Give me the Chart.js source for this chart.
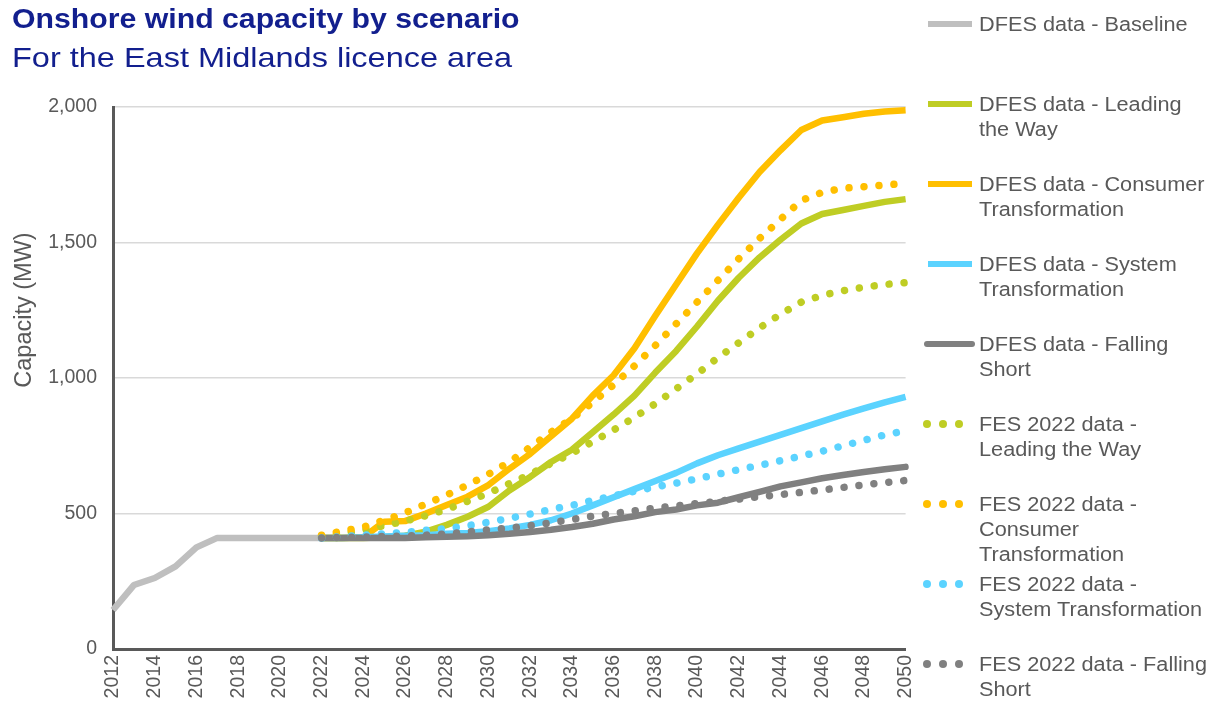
<!DOCTYPE html>
<html>
<head>
<meta charset="utf-8">
<script src="https://cdn.jsdelivr.net/npm/chart.js@4.4.1/dist/chart.umd.min.js"></script>
<style>
html,body{margin:0;padding:0;background:#ffffff;width:1210px;height:706px;overflow:hidden;font-family:"Liberation Sans",Arial,sans-serif;}
#wrap{position:relative;width:1210px;height:706px;}
#chart{position:absolute;left:0;top:0;}
.ttl{position:absolute;left:12px;white-space:nowrap;color:#121f8e;transform-origin:0 0;}
#t1{top:6px;font-size:27px;line-height:27px;font-weight:bold;transform:scaleX(1.12);}
#t2{top:44px;font-size:28px;line-height:28px;transform:scaleX(1.16);}
#ytitle{position:absolute;width:240px;left:-97px;top:298px;height:24px;line-height:24px;text-align:center;font-size:23.5px;color:#595959;transform:rotate(-90deg);transform-origin:50% 50%;white-space:nowrap;}
#legend{position:absolute;left:0;top:0;width:1210px;height:706px;pointer-events:none;z-index:2;}
.li{position:absolute;left:979px;font-size:20px;line-height:25px;color:#595959;white-space:nowrap;transform:scaleX(1.085);transform-origin:0 0;}
.mk{position:absolute;}
</style>
</head>
<body>
<div id="wrap">
  <canvas id="chart" width="935" height="706"></canvas>
  <div class="ttl" id="t1">Onshore wind capacity by scenario</div>
  <div class="ttl" id="t2">For the East Midlands licence area</div>
  <div id="ytitle">Capacity (MW)</div>
  <div id="legend"></div>
</div>
<script>
// ---- categories ----
const years = ['2012','2013','2014','2015','2016','2017','2018','2019','2020','2021','2022','2023','2024','2025','2026','2027','2028','2029','2030','2031','2032','2033','2034','2035','2036','2037','2038','2039','2040','2041','2042','2043','2044','2045','2046','2047','2048','2049','2050'];

// ---- y tick values ----
const yTicks = [0, 500, 1000, 1500, 2000];

// ---- series (MW) ----
const dfesBaseline = [144, 236, 262, 305, 375, 410, 410, 410, 410, 410, 410, null, null, null, null, null, null, null, null, null, null, null, null, null, null, null, null, null, null, null, null, null, null, null, null, null, null, null, null];

// 2022 .. 2050
const dfesLeadingTheWay = [410, 410, 410, 412, 418, 433, 458, 488, 525, 585, 635, 690, 735, 800, 865, 935, 1020, 1100, 1190, 1285, 1370, 1445, 1510, 1570, 1605, 1620, 1635, 1650, 1660];
const dfesConsumerTransformation = [410, 410, 412, 470, 472, 500, 531, 562, 605, 665, 720, 785, 850, 935, 1010, 1110, 1230, 1345, 1460, 1565, 1665, 1760, 1840, 1915, 1950, 1962, 1975, 1983, 1988];
const dfesSystemTransformation = [410, 410, 412, 415, 418, 420, 425, 428, 435, 445, 458, 475, 500, 530, 560, 590, 620, 650, 685, 715, 740, 765, 790, 815, 840, 865, 888, 910, 930];
const dfesFallingShort = [410, 410, 410, 410, 410, 412, 414, 416, 420, 425, 432, 440, 450, 462, 478, 490, 505, 515, 530, 540, 560, 580, 600, 615, 630, 642, 653, 663, 672];

const fesLeadingTheWay = [415, 425, 440, 455, 472, 492, 515, 545, 575, 610, 645, 685, 722, 765, 808, 855, 905, 960, 1015, 1075, 1130, 1185, 1235, 1280, 1305, 1322, 1335, 1345, 1352];
const fesConsumerTransformation = [420, 435, 450, 475, 502, 535, 568, 605, 645, 690, 745, 800, 850, 910, 975, 1045, 1120, 1200, 1280, 1360, 1440, 1515, 1585, 1655, 1685, 1700, 1706, 1712, 1718];
const fesSystemTransformation = [410, 415, 420, 425, 430, 438, 445, 455, 468, 482, 498, 515, 530, 548, 565, 582, 598, 612, 628, 645, 662, 678, 695, 712, 730, 750, 770, 790, 805];
const fesFallingShort = [410, 412, 413, 415, 417, 420, 425, 432, 440, 446, 455, 466, 478, 490, 500, 510, 520, 528, 537, 545, 553, 562, 570, 578, 587, 596, 606, 614, 622];

// ---- series names ----
const seriesNames = [
  'DFES data - Baseline',
  'DFES data - Leading|the Way',
  'DFES data - Consumer|Transformation',
  'DFES data - System|Transformation',
  'DFES data - Falling|Short',
  'FES 2022 data -|Leading the Way',
  'FES 2022 data -|Consumer|Transformation',
  'FES 2022 data -|System Transformation',
  'FES 2022 data - Falling|Short'
];

const C_BASE = '#bfbfbf', C_LW = '#bfcd24', C_CT = '#ffbf00', C_ST = '#5bd3ff', C_FS = '#808080';
const seriesColors = [C_BASE, C_LW, C_CT, C_ST, C_FS, C_LW, C_CT, C_ST, C_FS];
const seriesDotted = [false, false, false, false, false, true, true, true, true];

const startOffset = years.indexOf('2022');
function fromYear(arr){ const out = new Array(startOffset).fill(null); return out.concat(arr); }

const seriesData = [
  dfesBaseline,
  fromYear(dfesLeadingTheWay),
  fromYear(dfesConsumerTransformation),
  fromYear(dfesSystemTransformation),
  fromYear(dfesFallingShort),
  fromYear(fesLeadingTheWay),
  fromYear(fesConsumerTransformation),
  fromYear(fesSystemTransformation),
  fromYear(fesFallingShort)
];

const datasets = seriesData.map((d, i) => ({
  label: seriesNames[i].replace(/\|/g, ' '),
  data: d,
  borderColor: seriesColors[i],
  backgroundColor: seriesColors[i],
  borderWidth: seriesDotted[i] ? 7.5 : 6.5,
  borderDash: seriesDotted[i] ? [0.01, 15] : [],
  borderCapStyle: seriesDotted[i] ? 'round' : (i === 4 ? 'round' : 'butt'),
  borderJoinStyle: 'round',
  pointRadius: 0,
  pointHoverRadius: 0,
  tension: 0,
  fill: false,
  spanGaps: false,
  order: seriesData.length - i
}));

const AXIS_COLOR = '#595959';
const FONT = '"Liberation Sans", Arial, sans-serif';

new Chart(document.getElementById('chart'), {
  type: 'line',
  data: { labels: years, datasets },
  options: {
    responsive: false,
    animation: false,
    devicePixelRatio: 1,
    layout: { padding: { left: 0, top: 107, right: 24, bottom: 0 } },
    plugins: { legend: { display: false }, tooltip: { enabled: false }, title: { display: false } },
    scales: {
      x: {
        type: 'category',
        offset: false,
        grid: { display: false, drawTicks: false },
        border: { display: true, color: AXIS_COLOR, width: 3 },
        ticks: {
          autoSkip: false,
          maxRotation: 90,
          minRotation: 90,
          padding: 6,
          color: AXIS_COLOR,
          font: { family: FONT, size: 19.5 },
          callback: function(v, i) { const y = parseInt(years[i], 10); return (y % 2 === 0) ? years[i] : ''; }
        },
        afterFit: function(scale) { scale.height = 57; }
      },
      y: {
        min: 0,
        max: 2000,
        afterBuildTicks: function(scale) { scale.ticks = yTicks.map(v => ({ value: v })); },
        grid: { color: '#d9d9d9', lineWidth: 1.5, drawTicks: false },
        border: { display: true, color: AXIS_COLOR, width: 3 },
        ticks: {
          padding: 16,
          color: AXIS_COLOR,
          font: { family: FONT, size: 19.5 },
          callback: function(v) { return Number(v).toLocaleString('en-US'); }
        },
        afterFit: function(scale) { scale.width = 113; }
      }
    }
  }
});

// ---- HTML legend ----
const legend = document.getElementById('legend');
seriesNames.forEach((name, i) => {
  const top = 12 + 80 * i;
  const cy = top + 12;
  const t = document.createElement('div');
  t.className = 'li';
  t.style.top = top + 'px';
  t.innerHTML = name.split('|').join('<br>');
  legend.appendChild(t);
  if (seriesDotted[i]) {
    [926.7, 942.7, 959.3].forEach(cx => {
      const d = document.createElement('div');
      d.className = 'mk';
      d.style.left = (cx - 4) + 'px';
      d.style.top = (cy - 4) + 'px';
      d.style.width = '8px';
      d.style.height = '8px';
      d.style.borderRadius = '50%';
      d.style.background = seriesColors[i];
      legend.appendChild(d);
    });
  } else {
    const m = document.createElement('div');
    m.className = 'mk';
    const round = (i === 4);
    m.style.left = (round ? 924 : 928) + 'px';
    m.style.width = (round ? 51 : 44) + 'px';
    m.style.top = (cy - 3) + 'px';
    m.style.height = '6px';
    m.style.borderRadius = round ? '3px' : '0';
    m.style.background = seriesColors[i];
    legend.appendChild(m);
  }
});
</script>
</body>
</html>
